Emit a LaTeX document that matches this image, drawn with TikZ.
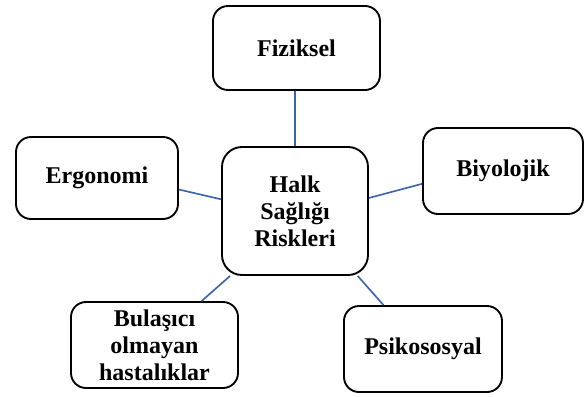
\documentclass[tikz,border=0pt]{standalone}
\usepackage{fontspec}
\setmainfont{Liberation Serif}
\usepackage{tikz}

\definecolor{linkblue}{RGB}{59,100,173}

\tikzset{
    riskbox/.style={draw, line width=1.6pt, rounded corners=0.45cm, align=center,
        inner sep=0pt, font=\fontsize{20.5}{23}\selectfont\bfseries},
    hubbox/.style={riskbox, rounded corners=0.6cm},
    link/.style={draw=linkblue, line width=1.4pt}
}

\begin{document}
\begin{tikzpicture}
    \useasboundingbox (0,0) rectangle (17.58,-11.88);

    %%  Centre box
    \node [hubbox, minimum width=4.38cm, minimum height=3.84cm] (ctr) at (8.85,-6.33) {Halk\\Sağlığı\\Riskleri};

    %%  Risk groups
    \node [riskbox, minimum width=5.01cm, minimum height=2.52cm] (fiz) at (8.895,-1.44) {Fiziksel};
    \node [riskbox, minimum width=4.8cm, minimum height=2.58cm] (biy) at (15.09,-5.13) {Biyolojik};
    \node [riskbox, minimum width=4.86cm, minimum height=2.46cm] (erg) at (2.91,-5.34) {Ergonomi};
    \node [riskbox, minimum width=5.01cm, minimum height=2.58cm] (bul) at (4.635,-10.35) {Bulaşıcı\\olmayan\\hastalıklar};
    \node [riskbox, minimum width=4.74cm, minimum height=2.58cm] (psi) at (12.69,-10.47) {Psikososyal};

    % Links
    \draw [link] (fiz.south -| ctr.north) -- (ctr.north);
    \draw [link] (biy.189) -- (ctr.10);
    \draw [link] (erg.-8) -- (ctr.171);
    \draw [link] (bul.43) -- (ctr.225);
    \draw [link] (psi.132) -- (ctr.-46);
\end{tikzpicture}
\end{document}
